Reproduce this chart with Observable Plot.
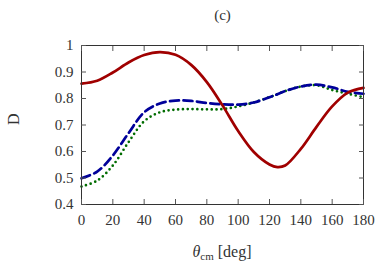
<!DOCTYPE html>
<html><head><meta charset="utf-8">
<script src="https://cdn.jsdelivr.net/npm/d3@7"></script>
<script src="https://cdn.jsdelivr.net/npm/@observablehq/plot@0.6"></script>
<style>body{margin:0;background:#fff} svg text{font-family:'Liberation Serif',serif !important}</style>
</head><body><div id="chart"></div>
<script>
const theta = [0,10,20,30,40,50,60,70,80,90,100,110,120,125,130,140,150,160,170,180];
const red   = [0.856,0.867,0.898,0.936,0.964,0.975,0.965,0.927,0.862,0.774,0.677,0.598,0.551,0.541,0.547,0.610,0.693,0.770,0.822,0.840];
const blue  = [0.499,0.524,0.585,0.669,0.748,0.781,0.792,0.791,0.783,0.778,0.777,0.785,0.805,0.816,0.828,0.845,0.852,0.842,0.825,0.818];
const green = [0.468,0.490,0.547,0.635,0.714,0.748,0.758,0.760,0.759,0.760,0.770,0.785,0.805,0.816,0.828,0.845,0.850,0.832,0.818,0.805];
const xTicks = [0,20,40,60,80,100,120,140,160,180];
const yTicks = [0.4,0.5,0.6,0.7,0.8,0.9,1];
const title = "(c)";
const yLabel = "D";

const rows = k => theta.map((t,i)=>({t, v:k[i]}));
const font = "'Liberation Serif', serif";
const yFmt = d => d === 1 ? "1" : d.toFixed(1);
const plot = Plot.plot({
  width: 382, height: 269,
  marginLeft: 81, marginRight: 19, marginTop: 45, marginBottom: 65,
  style: {fontFamily: font, fontSize: "15px", color: "#333", background: "#fff"},
  x: {domain: [0,180], ticks: xTicks, label: null},
  y: {domain: [0.4,1], ticks: yTicks, label: null, tickFormat: yFmt},
  marks: [
    Plot.line(rows(green), {x:"t", y:"v", stroke:"#006c00", strokeWidth:2.7, strokeDasharray:"0,4.8", strokeLinecap:"round", curve:"catmull-rom"}),
    Plot.line(rows(blue), {x:"t", y:"v", stroke:"#00009a", strokeWidth:2.7, strokeDasharray:"9,4.5", curve:"catmull-rom"}),
    Plot.line(rows(red), {x:"t", y:"v", stroke:"#a00000", strokeWidth:2.7, curve:"catmull-rom"}),
    Plot.frame({stroke:"#333", strokeWidth:1}),
    Plot.axisX(xTicks, {anchor:"bottom", tickSize:-5, tickPadding:15, stroke:"#555", fill:"#333", fontFamily:font, fontSize:15}),
    Plot.axisX(xTicks, {anchor:"top", tickSize:-5, tickFormat:() => "", label:null, stroke:"#555"}),
    Plot.axisY(yTicks, {anchor:"left", tickSize:-5, tickPadding:13, stroke:"#555", fill:"#333", tickFormat: yFmt, fontFamily:font, fontSize:15}),
    Plot.axisY(yTicks, {anchor:"right", tickSize:-5, tickFormat:() => "", label:null, stroke:"#555"}),
    Plot.text([title], {frameAnchor:"top", dy:-30, lineAnchor:"middle", text:d=>d, fontSize:15, fill:"#333", fontFamily:font}),
    Plot.text([yLabel], {frameAnchor:"left", dx:-68, text:d=>d, rotate:-90, fontSize:16, fill:"#333", fontFamily:font})
  ]
});
document.getElementById("chart").appendChild(plot);
// x-axis label with subscript
const svg = d3.select(plot);
const t = svg.append("text").attr("x", 222).attr("y", 257).attr("text-anchor","middle")
  .attr("font-family", font).attr("font-size", 16).attr("fill","#333");
t.append("tspan").attr("font-style","italic").text("θ");
t.append("tspan").attr("font-size", 11).attr("dy", 3).text("cm");
t.append("tspan").attr("dy", -3).text(" [deg]");
</script></body></html>
